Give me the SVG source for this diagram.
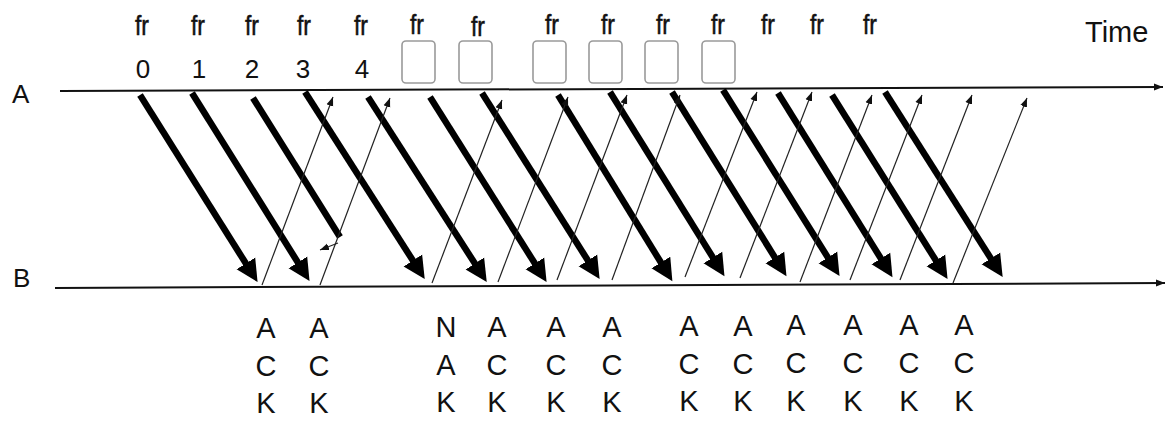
<svg xmlns="http://www.w3.org/2000/svg" width="1167" height="421" viewBox="0 0 1167 421">
  <style>
    text { font-family: "Liberation Sans", Arial, sans-serif; fill: #111; }
    .fr { font-size: 27px; text-anchor: middle; stroke: #111; stroke-width: 0.5; }
    .num { font-size: 26px; text-anchor: middle; }
    .side { font-size: 26px; }
    .time { font-size: 29px; }
    .ack { font-size: 29px; text-anchor: middle; }
    .axis { stroke: #111; stroke-width: 2; fill: none; }
    .frame { stroke: #000; stroke-width: 6.5; fill: none; marker-end: url(#bigHead); }
    .lost { stroke: #000; stroke-width: 6.5; fill: none; }
    .reply { stroke: #222; stroke-width: 1.2; fill: none; marker-end: url(#smallHead); }
    .slot { fill: none; stroke: #9a9a9a; stroke-width: 1.6; }
  </style>
  <defs>
    <marker id="bigHead" markerUnits="userSpaceOnUse" viewBox="0 -12 24 24" markerWidth="24" markerHeight="24" refX="1" refY="0" orient="auto">
      <path d="M0,-11 L22,0 L0,11 z" fill="#000"/>
    </marker>
    <marker id="smallHead" markerUnits="userSpaceOnUse" viewBox="0 -5 10 10" markerWidth="10" markerHeight="10" refX="9" refY="0" orient="auto">
      <path d="M0,-3.5 L9,0 L0,3.5 z" fill="#111"/>
    </marker>
  </defs>

  <rect width="1167" height="421" fill="#fff"/>

  <!-- sender timeline -->
  <g id="lineA">
    <text class="side" x="12" y="103">A</text>
    <line class="axis" x1="60" y1="91" x2="1163" y2="87" marker-end="url(#smallHead)"/>
    <text class="time" x="1085" y="42">Time</text>
  </g>

  <!-- receiver timeline -->
  <g id="lineB">
    <text class="side" x="13" y="287">B</text>
    <line class="axis" x1="55" y1="288" x2="1165" y2="283" marker-end="url(#smallHead)"/>
  </g>

  <!-- frame labels -->
  <g id="frames">
    <text class="fr" x="142" y="35" textLength="14" lengthAdjust="spacingAndGlyphs">fr</text>
    <text class="fr" x="198" y="35" textLength="14" lengthAdjust="spacingAndGlyphs">fr</text>
    <text class="fr" x="252" y="35" textLength="14" lengthAdjust="spacingAndGlyphs">fr</text>
    <text class="fr" x="304" y="35" textLength="14" lengthAdjust="spacingAndGlyphs">fr</text>
    <text class="fr" x="361" y="35" textLength="14" lengthAdjust="spacingAndGlyphs">fr</text>
    <text class="fr" x="417" y="34" textLength="14" lengthAdjust="spacingAndGlyphs">fr</text>
    <text class="fr" x="478" y="36" textLength="14" lengthAdjust="spacingAndGlyphs">fr</text>
    <text class="fr" x="552" y="34" textLength="14" lengthAdjust="spacingAndGlyphs">fr</text>
    <text class="fr" x="608" y="34" textLength="14" lengthAdjust="spacingAndGlyphs">fr</text>
    <text class="fr" x="663" y="34" textLength="14" lengthAdjust="spacingAndGlyphs">fr</text>
    <text class="fr" x="718" y="34" textLength="14" lengthAdjust="spacingAndGlyphs">fr</text>
    <text class="fr" x="768" y="34" textLength="14" lengthAdjust="spacingAndGlyphs">fr</text>
    <text class="fr" x="817" y="34" textLength="14" lengthAdjust="spacingAndGlyphs">fr</text>
    <text class="fr" x="870" y="34" textLength="14" lengthAdjust="spacingAndGlyphs">fr</text>
  </g>

  <!-- sequence numbers -->
  <g id="seq">
    <text class="num" x="143" y="78">0</text>
    <text class="num" x="199" y="78">1</text>
    <text class="num" x="252" y="78">2</text>
    <text class="num" x="303" y="78">3</text>
    <text class="num" x="362" y="78">4</text>
  </g>

  <!-- empty slots for resent frames -->
  <g id="slots">
    <rect class="slot" x="402" y="41" width="33" height="42" rx="4"/>
    <rect class="slot" x="459" y="41" width="33" height="42" rx="4"/>
    <rect class="slot" x="533" y="41" width="33" height="42" rx="4"/>
    <rect class="slot" x="589" y="41" width="33" height="42" rx="4"/>
    <rect class="slot" x="645" y="41" width="33" height="42" rx="4"/>
    <rect class="slot" x="702" y="41" width="33" height="42" rx="4"/>
  </g>

  <!-- arrows between the two stations -->
  <g id="connectors">
    <!-- data frames A -> B -->
    <line class="frame" x1="140" y1="95" x2="246.4" y2="264.3"/>
    <line class="frame" x1="192" y1="93" x2="298.4" y2="263.3"/>
    <line class="lost" x1="253" y1="98" x2="340" y2="237"/>
    <line class="frame" x1="305" y1="92" x2="413.4" y2="261.3"/>
    <line class="frame" x1="368" y1="97" x2="475.4" y2="264.3"/>
    <line class="frame" x1="430" y1="97" x2="535.4" y2="264.3"/>
    <line class="frame" x1="482" y1="93" x2="588.4" y2="261.3"/>
    <line class="frame" x1="558" y1="95" x2="661.4" y2="263.3"/>
    <line class="frame" x1="610" y1="92" x2="713.4" y2="258.3"/>
    <line class="frame" x1="672" y1="92" x2="775.4" y2="258.3"/>
    <line class="frame" x1="723" y1="90" x2="828.4" y2="258.3"/>
    <line class="frame" x1="778" y1="93" x2="881.4" y2="259.3"/>
    <line class="frame" x1="832" y1="95" x2="936.4" y2="261.3"/>
    <line class="frame" x1="885" y1="92" x2="991.4" y2="259.3"/>

    <!-- replies B -> A -->
    <line class="reply" x1="262" y1="285" x2="333" y2="97"/>
    <line class="reply" x1="320" y1="285" x2="390" y2="98"/>
    <line class="reply" x1="432" y1="283" x2="502" y2="100"/>
    <line class="reply" x1="498" y1="282" x2="568" y2="97"/>
    <line class="reply" x1="557" y1="280" x2="627" y2="95"/>
    <line class="reply" x1="612" y1="280" x2="680" y2="95"/>
    <line class="reply" x1="685" y1="277" x2="757" y2="92"/>
    <line class="reply" x1="740" y1="278" x2="812" y2="92"/>
    <line class="reply" x1="800" y1="282" x2="872" y2="95"/>
    <line class="reply" x1="850" y1="280" x2="922" y2="95"/>
    <line class="reply" x1="900" y1="280" x2="972" y2="95"/>
    <line class="reply" x1="953" y1="283" x2="1027" y2="98"/>

    <!-- short stub after the lost frame -->
    <line class="reply" x1="338" y1="243" x2="320" y2="250"/>
  </g>

  <!-- acknowledgement labels under B -->
  <g id="ack0"><text class="ack" x="266" y="338">A</text><text class="ack" x="266" y="376">C</text><text class="ack" x="266" y="413">K</text></g>
  <g id="ack1"><text class="ack" x="319" y="338">A</text><text class="ack" x="319" y="376">C</text><text class="ack" x="319" y="413">K</text></g>
  <g id="nak2"><text class="ack" x="446" y="337">N</text><text class="ack" x="446" y="375">A</text><text class="ack" x="446" y="412">K</text></g>
  <g id="ack3"><text class="ack" x="497" y="337">A</text><text class="ack" x="497" y="375">C</text><text class="ack" x="497" y="412">K</text></g>
  <g id="ack4"><text class="ack" x="556" y="337">A</text><text class="ack" x="556" y="375">C</text><text class="ack" x="556" y="412">K</text></g>
  <g id="ack5"><text class="ack" x="612" y="337">A</text><text class="ack" x="612" y="375">C</text><text class="ack" x="612" y="412">K</text></g>
  <g id="ack6"><text class="ack" x="689" y="336">A</text><text class="ack" x="689" y="374">C</text><text class="ack" x="689" y="411">K</text></g>
  <g id="ack7"><text class="ack" x="743" y="336">A</text><text class="ack" x="743" y="374">C</text><text class="ack" x="743" y="411">K</text></g>
  <g id="ack8"><text class="ack" x="796" y="335">A</text><text class="ack" x="796" y="373">C</text><text class="ack" x="796" y="411">K</text></g>
  <g id="ack9"><text class="ack" x="853" y="335">A</text><text class="ack" x="853" y="373">C</text><text class="ack" x="853" y="411">K</text></g>
  <g id="ack10"><text class="ack" x="909" y="335">A</text><text class="ack" x="909" y="373">C</text><text class="ack" x="909" y="411">K</text></g>
  <g id="ack11"><text class="ack" x="964" y="335">A</text><text class="ack" x="964" y="373">C</text><text class="ack" x="964" y="411">K</text></g>
</svg>
